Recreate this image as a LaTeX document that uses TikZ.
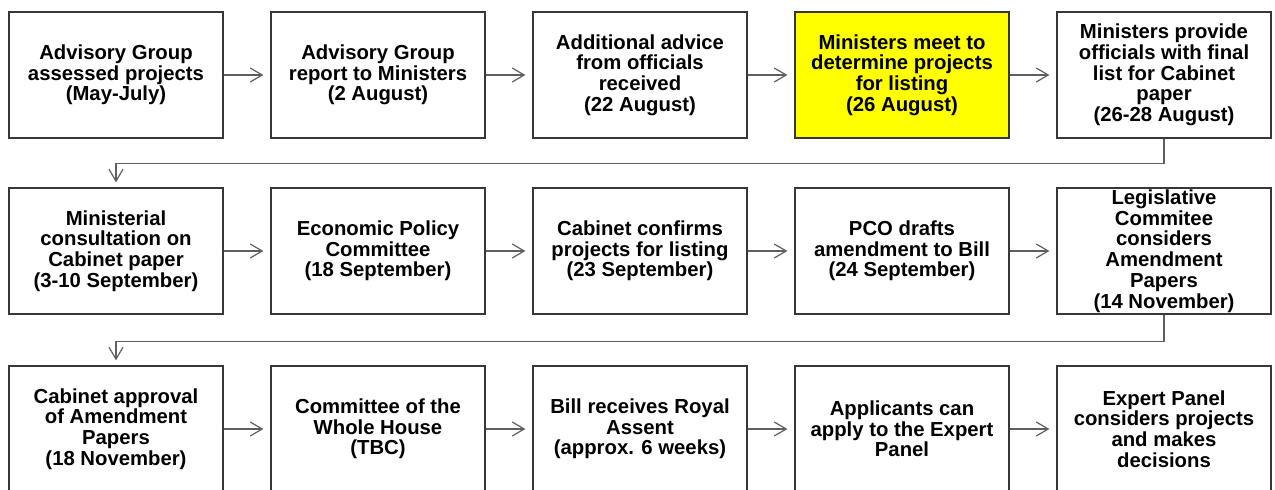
\documentclass[tikz,border=0pt]{standalone}
\usepackage{fontspec}
\setmainfont{Liberation Sans}
\usetikzlibrary{arrows.meta}

\definecolor{boxline}{RGB}{55,55,55}
\definecolor{flowline}{RGB}{95,95,95}
\definecolor{hilite}{RGB}{255,255,0}

\tikzset{
    stage/.style={draw=boxline,line width=1.2pt,minimum width=214pt,minimum height=126pt,inner sep=0pt,align=center,font=\fontsize{20.3}{20.7}\selectfont\bfseries},
    flow/.style={draw=flowline,line width=1.2pt,-{Straight Barb[length=12pt,width=14pt,line width=1.2pt]},shorten >=7pt}
}

\begin{document}
\begin{tikzpicture}[x=1pt,y=1pt]
    \useasboundingbox(0,0)rectangle(1275,-490);
    \clip(0,0)rectangle(1275,-490);

    % first row
    \node[stage](agassess)at(116,-75){Advisory Group\\assessed projects\\(May-July)};
    \node[stage](agreport)at(378,-75){Advisory Group\\report to Ministers\\(2 August)};
    \node[stage](offadvice)at(640,-75){Additional advice\\from officials\\received\\(22 August)};
    \node[stage,fill=hilite](minmeet)at(902,-75){Ministers meet to\\determine projects\\for listing\\(26 August)};
    \node[stage](minlist)at(1164,-75){Ministers provide\\officials with final\\list for Cabinet\\paper\\(26-28 August)};

    % second row
    \node[stage](mincons)at(116,-251){Ministerial\\consultation on\\Cabinet paper\\(3-10 September)};
    \node[stage](epc)at(378,-251){Economic Policy\\Committee\\(18 September)};
    \node[stage](cabconf)at(640,-251){Cabinet confirms\\projects for listing\\(23 September)};
    \node[stage](pcodraft)at(902,-251){PCO drafts\\amendment to Bill\\(24 September)};
    \node[stage](legcomm)at(1164,-251){Legislative\\Commitee\\considers\\Amendment\\Papers\\(14 November)};

    % third row
    \node[stage](cabappr)at(116,-429){Cabinet approval\\of Amendment\\Papers\\(18 November)};
    \node[stage](wholehouse)at(378,-429){Committee of the\\Whole House\\(TBC)};
    \node[stage](assent)at(640,-429){Bill receives Royal\\Assent\\(approx. 6 weeks)};
    \node[stage](apply)at(902,-429){Applicants can\\apply to the Expert\\Panel};
    \node[stage](panel)at(1164,-429){Expert Panel\\considers projects\\and makes\\decisions};

    \draw[flow](agassess.east)--(agreport.west);
    \draw[flow](agreport.east)--(offadvice.west);
    \draw[flow](offadvice.east)--(minmeet.west);
    \draw[flow](minmeet.east)--(minlist.west);
    \draw[flow,shorten >=5pt](minlist.south)--++(0,-25)-|(mincons.north);

    \draw[flow](mincons.east)--(epc.west);
    \draw[flow](epc.east)--(cabconf.west);
    \draw[flow](cabconf.east)--(pcodraft.west);
    \draw[flow](pcodraft.east)--(legcomm.west);
    \draw[flow,shorten >=5pt](legcomm.south)--++(0,-27)-|(cabappr.north);

    \draw[flow](cabappr.east)--(wholehouse.west);
    \draw[flow](wholehouse.east)--(assent.west);
    \draw[flow](assent.east)--(apply.west);
    \draw[flow](apply.east)--(panel.west);
\end{tikzpicture}
\end{document}
